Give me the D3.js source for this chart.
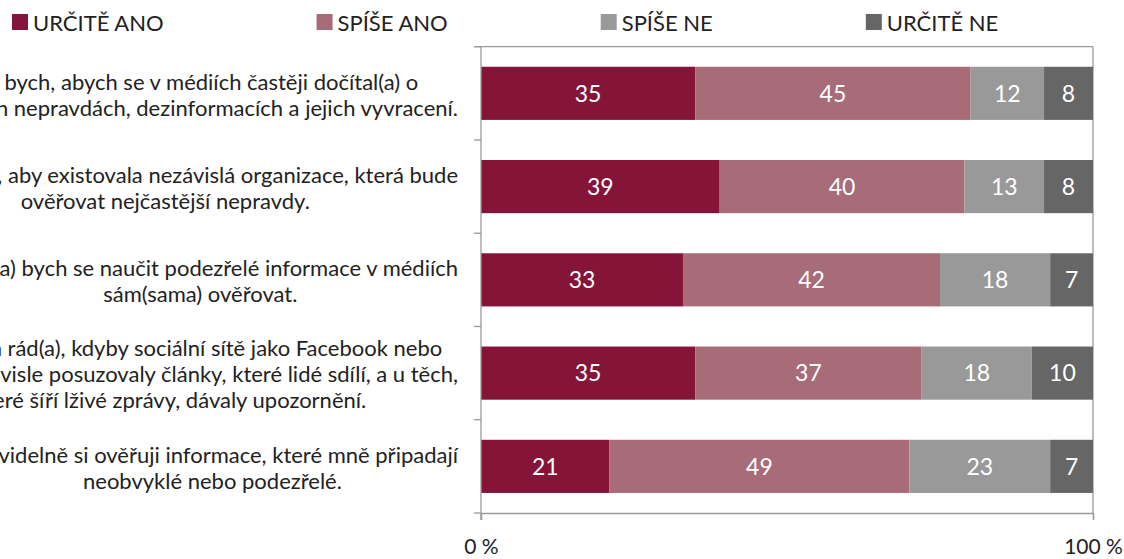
<!DOCTYPE html>
<html>
<head>
<meta charset="utf-8">
<script src="https://cdn.jsdelivr.net/npm/d3@7"></script>
<style>
  body { margin: 0; background: #fff; }
  svg { display: block; }
  text { font-family: Lato, "Open Sans", sans-serif; }
</style>
</head>
<body>
<svg id="chart" width="1124" height="559"></svg>
<script>
// --- data
const seriesNames = ["URČITĚ ANO", "SPÍŠE ANO", "SPÍŠE NE", "URČITĚ NE"];
const seriesColors = ["#841538", "#a86c79", "#999999", "#666666"];

const statements = [
  ["Chtěl(a) bych, abych se v médiích častěji dočítal(a) o",
   "nejčastějších nepravdách, dezinformacích a jejich vyvracení."],
  ["Chtěl(a) bych, aby existovala nezávislá organizace, která bude",
   "ověřovat nejčastější nepravdy."],
  ["Chtěl(a) bych se naučit podezřelé informace v médiích",
   "sám(sama) ověřovat."],
  ["Byl(a) bych rád(a), kdyby sociální sítě jako Facebook nebo",
   "Twitter nezávisle posuzovaly články, které lidé sdílí, a u těch,",
   "které šíří lživé zprávy, dávaly upozornění."],
  ["Pravidelně si ověřuji informace, které mně připadají",
   "neobvyklé nebo podezřelé."]
];

const urciteAno = [35, 39, 33, 35, 21];
const spiseAno  = [45, 40, 42, 37, 49];
const spiseNe   = [12, 13, 18, 18, 23];
const urciteNe  = [8, 8, 7, 10, 7];

const xTicks = [0, 100];

// rows for d3.stack
const rows = statements.map((s, i) => ({
  i,
  "URČITĚ ANO": urciteAno[i],
  "SPÍŠE ANO": spiseAno[i],
  "SPÍŠE NE": spiseNe[i],
  "URČITĚ NE": urciteNe[i]
}));

const svg = d3.select("#chart");

const plot = { left: 481, right: 1093, top: 46.7, bottom: 513 };

const x = d3.scaleLinear().domain([0, 100]).range([plot.left, plot.right]);
const y = d3.scaleBand()
  .domain(d3.range(statements.length))
  .range([plot.top, plot.bottom])
  .paddingInner(0.43)
  .paddingOuter(0.215);

const color = d3.scaleOrdinal().domain(seriesNames).range(seriesColors);

const stacked = d3.stack().keys(seriesNames)(rows);

// frame: top + right border
const frameColor = "#9a9a9a";
svg.append("line")
  .attr("x1", plot.left - 7).attr("x2", plot.right)
  .attr("y1", plot.top).attr("y2", plot.top)
  .attr("stroke", frameColor).attr("stroke-width", 1.3);
svg.append("line")
  .attr("x1", plot.right).attr("x2", plot.right)
  .attr("y1", plot.top).attr("y2", plot.bottom)
  .attr("stroke", frameColor).attr("stroke-width", 1.3);

// bars
const layer = svg.append("g")
  .selectAll("g")
  .data(stacked)
  .join("g")
  .attr("fill", (d) => color(d.key));

layer.selectAll("rect")
  .data((d) => d.map((v) => ({ key: d.key, v })))
  .join("rect")
  .attr("x", (d) => x(d.v[0]))
  .attr("width", (d) => x(d.v[1]) - x(d.v[0]))
  .attr("y", (d) => y(d.v.data.i))
  .attr("height", y.bandwidth());

// value labels
layer.selectAll("text")
  .data((d) => d.map((v) => ({ key: d.key, v })))
  .join("text")
  .attr("x", (d) => (x(d.v[0]) + x(d.v[1])) / 2)
  .attr("y", (d) => y(d.v.data.i) + y.bandwidth() / 2)
  .attr("dy", "0.36em")
  .attr("text-anchor", "middle")
  .attr("fill", "#fff")
  .style("font-size", "23px")
  .text((d) => d.v[1] - d.v[0]);

// left axis (category separators)
const axisG = svg.append("g");
axisG.append("line")
  .attr("x1", plot.left).attr("x2", plot.left)
  .attr("y1", plot.top).attr("y2", plot.bottom + 7)
  .attr("stroke", frameColor).attr("stroke-width", 1.3);
axisG.selectAll(".sep")
  .data(d3.range(statements.length + 1))
  .join("line")
  .attr("x1", plot.left - 7).attr("x2", plot.left)
  .attr("y1", (i) => plot.top + i * y.step())
  .attr("y2", (i) => plot.top + i * y.step())
  .attr("stroke", frameColor).attr("stroke-width", 1.3);

// bottom axis
const xAxis = svg.append("g")
  .attr("transform", `translate(0,${plot.bottom})`)
  .call(d3.axisBottom(x).tickValues(xTicks).tickSize(7).tickPadding(19)
    .tickFormat((d) => d + " %"));
xAxis.select(".domain").attr("stroke", frameColor).attr("stroke-width", 1.3);
xAxis.selectAll(".tick line").attr("stroke", frameColor).attr("stroke-width", 1.3);
xAxis.selectAll(".tick text")
  .attr("fill", "#222")
  .style("font-family", "Lato, sans-serif")
  .style("font-size", "21px");

// category labels: lines centred, block right-aligned next to the axis
const labelRight = 458;
const lineH = 26;
const labels = svg.append("g")
  .selectAll("text")
  .data(statements)
  .join("text")
  .attr("fill", "#222")
  .style("font-size", "22px");

labels.each(function (lines, i) {
  const t = d3.select(this);
  const cy = y(i) + y.bandwidth() / 2 + 1.5;
  const spans = t.selectAll("tspan")
    .data(lines)
    .join("tspan")
    .attr("y", (d, k) => cy + (k - (lines.length - 1) / 2) * lineH)
    .attr("dy", "0.35em")
    .text((d) => d);
  let maxW = 0;
  spans.each(function () { maxW = Math.max(maxW, this.getComputedTextLength()); });
  const cx = labelRight - maxW / 2;
  spans.attr("x", cx).attr("text-anchor", "middle");
});

// legend
const legend = svg.append("g");
let lx = 12;
seriesNames.forEach((name) => {
  const g = legend.append("g").attr("transform", `translate(${lx},0)`);
  g.append("rect")
    .attr("x", 0).attr("y", 14)
    .attr("width", 16).attr("height", 16)
    .attr("fill", color(name));
  const t = g.append("text")
    .attr("x", 21).attr("y", 30.5)
    .attr("fill", "#222")
    .style("font-size", "22px")
    .text(name);
  lx += 21 + t.node().getComputedTextLength() + 153;
});
</script>
</body>
</html>
